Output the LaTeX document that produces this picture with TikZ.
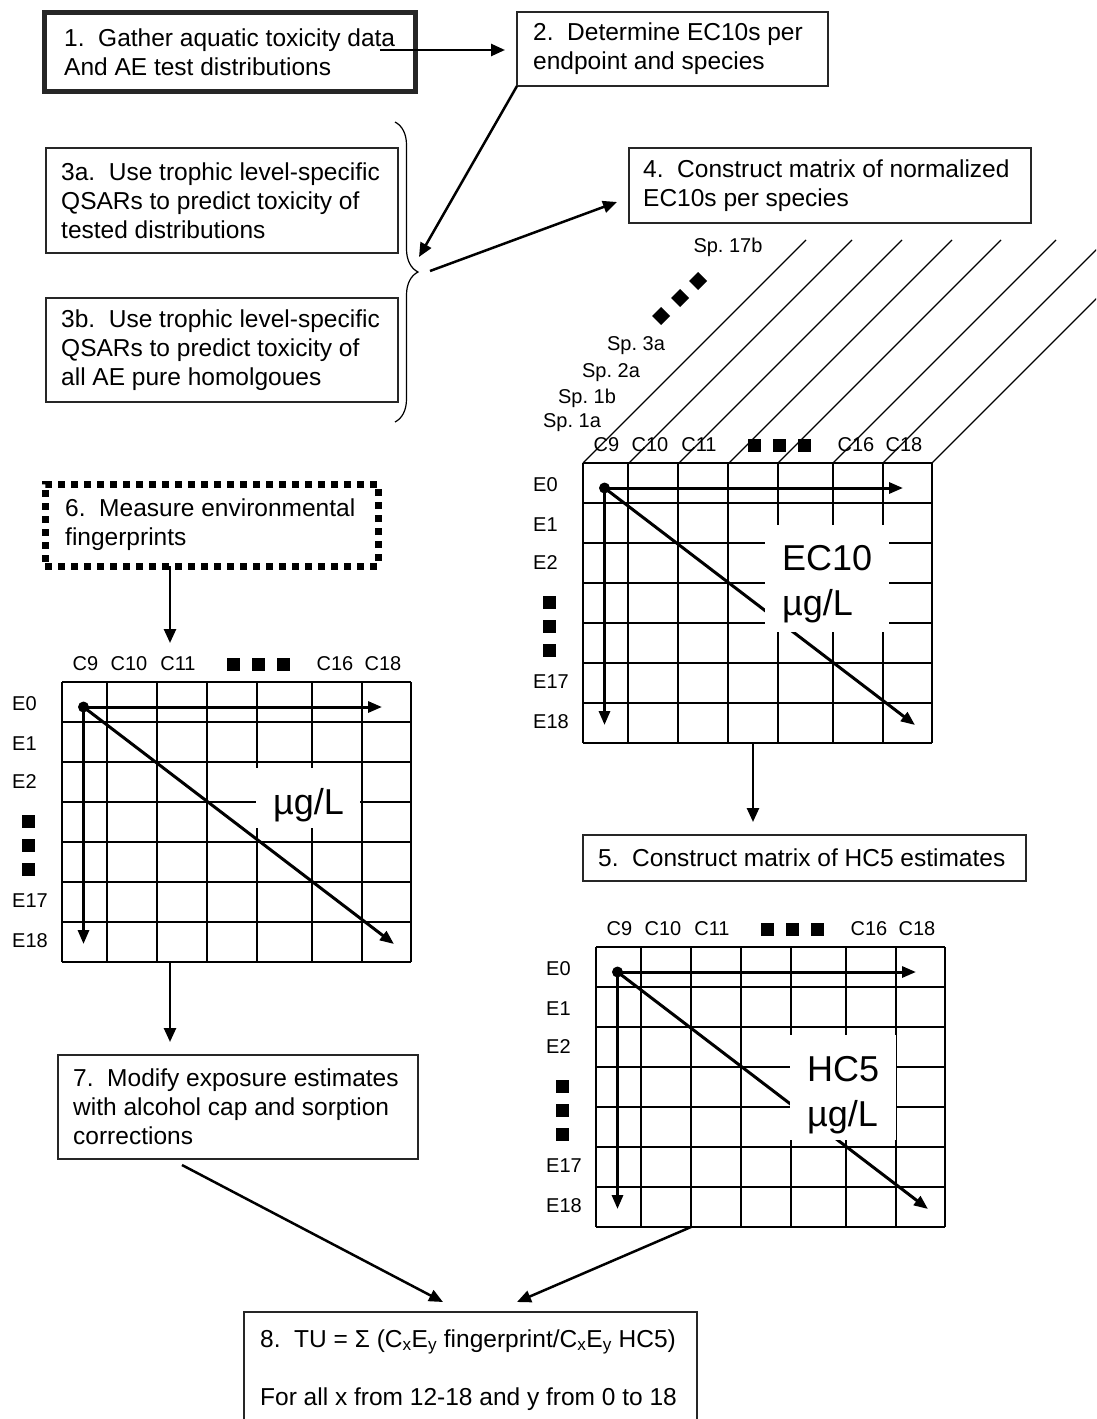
\documentclass[tikz,border=0pt]{standalone}
\usepackage{fontspec}
\setmainfont{Liberation Sans}
\usetikzlibrary{arrows.meta,decorations.pathreplacing}
\frenchspacing
\tikzset{
  boxframe/.style={draw=black!85, line width=1.3pt, inner sep=0pt, outer sep=0pt, anchor=north west},
  boxtext/.style={font=\fontsize{24.5pt}{29pt}\selectfont, align=left, inner sep=0pt, anchor=west},
  lbl/.style={font=\fontsize{20pt}{24pt}\selectfont, inner sep=0pt},
  bigtext/.style={font=\fontsize{36pt}{44pt}\selectfont, inner sep=0pt, anchor=base west},
  arr/.style={line width=2.5pt, -{Triangle[length=14pt,width=12pt]}},
  garr/.style={line width=3pt, -{Triangle[length=14pt,width=11pt]}},
  gline/.style={line width=2pt},
  obl/.style={line width=1.2pt},
  whitebox/.style={fill=white, inner sep=0pt, outer sep=0pt, anchor=north west},
}
\newcommand\concgrid[3]{%
 \begin{scope}[shift={(#1,#2)}]
  \node[inner sep=0pt, outer sep=0pt, minimum width=349pt, minimum height=280pt, anchor=north west] (#3g) at (0,0) {};
  \foreach \cx in {0,45,95,145,195,250,300,349} \draw[gline] (\cx,0) -- (\cx,280);
  \foreach \ry in {0,40,80,120,160,200,240,280} \draw[gline] (0,\ry) -- (349,\ry);
  \coordinate (#3o) at (21.5,25);
  \coordinate (#3h) at (320,25);
  \coordinate (#3v) at (21.5,262);
  \coordinate (#3d) at (332,262);
  \draw[garr] (#3o) -- (#3h);
  \draw[garr] (#3o) -- (#3v);
  \draw[garr] (#3o) -- (#3d);
  \fill (#3o) circle (5.5pt);
  \foreach \lx/\lt [count=\k] in {23.5/C9, 67/C10, 116/C11, 273/C16, 321/C18}
    \node[lbl] (#3c\k) at (\lx,-18) {\lt};
  \foreach \sx in {171,196,221} \fill (\sx-6.5,-24.5) rectangle +(13,13);
  \foreach \ly/\lt [count=\k] in {22/E0, 62/E1, 100/E2, 219/E17, 259/E18}
    \node[lbl, anchor=west] (#3r\k) at (-50,\ly) {\lt};
  \foreach \sy in {139,163,187} \fill (-40.5,\sy-6.5) rectangle +(13,13);
 \end{scope}}
\begin{document}
\begin{tikzpicture}[x=1pt, y=-1pt]
\useasboundingbox (0,0) rectangle (1096,1419);
\fill[white] (0,0) rectangle (1096,1419);
\clip (0,0) rectangle (1096,1419);

% ---------- boxes ----------
\node[boxframe, line width=5pt, minimum width=371pt, minimum height=79pt] (b1) at (44.5,12.5) {};
\node[boxtext] (t1) at (64,52) {1.\ \ Gather aquatic toxicity data\\And AE test distributions};

\node[boxframe, minimum width=311pt, minimum height=74pt] (b2) at (517,12) {};
\node[boxtext] (t2) at (533,49) {2.\ \ Determine EC10s per\\endpoint and species};

\node[boxframe, minimum width=352pt, minimum height=105pt] (b3a) at (46,148) {};
\node[boxtext] (t3a) at (61,200.5) {3a.\ \ Use trophic level-specific\\QSARs to predict toxicity of\\tested distributions};

\node[boxframe, minimum width=352pt, minimum height=104pt] (b3b) at (46,298) {};
\node[boxtext] (t3b) at (61,350) {3b.\ \ Use trophic level-specific\\QSARs to predict toxicity of\\all AE pure homolgoues};

\node[boxframe, minimum width=402pt, minimum height=75pt] (b4) at (629,148) {};
\node[boxtext] (t4) at (643,185.5) {4.\ \ Construct matrix of normalized\\EC10s per species};

\node[boxframe, minimum width=443pt, minimum height=46pt] (b5) at (583,835) {};
\node[boxtext] (t5) at (598,858) {5.\ \ Construct matrix of HC5 estimates};

\node[draw, line width=7pt, dash pattern=on 7pt off 6pt, inner sep=0pt, outer sep=0pt, anchor=north west,
      minimum width=333pt, minimum height=82pt] (b6) at (45,484) {};
\node[boxtext] (t6) at (65,525) {6.\ \ Measure environmental\\fingerprints};

\node[boxframe, minimum width=360pt, minimum height=104pt] (b7) at (58,1055) {};
\node[boxtext] (t7) at (73,1107) {7.\ \ Modify exposure estimates\\with alcohol cap and sorption\\corrections};

\node[boxframe, minimum width=453pt, minimum height=130pt] (b8) at (244,1312) {};
\node[boxtext, anchor=base west] (t8a) at (260,1347) {8.\ \ TU = Σ (C\textsubscript{x}E\textsubscript{y} fingerprint/C\textsubscript{x}E\textsubscript{y} HC5)};
\node[boxtext, anchor=base west] (t8b) at (260,1405) {For all x from 12-18 and y from 0 to 18};

% ---------- brace ----------
\draw[line width=1.2pt, decorate, decoration={brace, amplitude=23pt}] (395,122) -- (395,422);
\coordinate (a23) at (419,257);
\coordinate (a34s) at (430,271);

% ---------- oblique species lines ----------
\foreach \bx in {583,629,679,729,778,833,883,932}
  \draw[obl] (\bx,463) -- (\bx+223,240);
\node[lbl] (sp17b) at (728,247) {Sp. 17b};
\node[lbl] (sp3a) at (636,346) {Sp. 3a};
\node[lbl] (sp2a) at (611,373) {Sp. 2a};
\node[lbl] (sp1b) at (587,398) {Sp. 1b};
\node[lbl] (sp1a) at (572,423) {Sp. 1a};
\foreach \dx/\dy in {661/316, 680/298, 698/281}
  \fill (\dx,\dy-9) -- (\dx+9,\dy) -- (\dx,\dy+9) -- (\dx-9,\dy) -- cycle;

% ---------- grids ----------
\concgrid{62}{682}{L}
\node[whitebox, minimum width=104pt, minimum height=60pt] (Lw) at (256,768) {};
\node[bigtext] (Lt) at (273,814) {µg/L};

\concgrid{583}{463}{E}
\node[whitebox, minimum width=124pt, minimum height=107pt] (Ew) at (765,525) {};
\node[bigtext] (Et1) at (782,570) {EC10};
\node[bigtext] (Et2) at (782,615) {µg/L};

\concgrid{596}{947}{H}
\node[whitebox, minimum width=106pt, minimum height=105pt] (Hw) at (790,1035) {};
\node[bigtext] (Ht1) at (807,1081) {HC5};
\node[bigtext] (Ht2) at (807,1126) {µg/L};

% ---------- connectors ----------
\coordinate (s12) at (380,50);
\draw[arr, shorten >=12pt] (s12) -- (s12 -| b2.west);
\draw[arr] (b2.south west) -- (a23);
\draw[arr] (a34s) -- ([xshift=-12pt,yshift=-16.5pt]b4.west);
\coordinate (xL) at (170,643);
\draw[arr] (b6.south -| xL) -- (xL);
\coordinate (x7) at (170,1042);
\draw[arr] (Lg.south -| x7) -- (x7);
\coordinate (e5) at (753,822);
\draw[arr] (Eg.south -| e5) -- (e5);
\draw[arr] ([xshift=124pt,yshift=-6pt]b7.south west) -- ([xshift=199pt,yshift=10pt]b8.north west);
\draw[arr] ([xshift=95pt]Hg.south west) -- ([xshift=273pt,yshift=10pt]b8.north west);
\end{tikzpicture}
\end{document}
